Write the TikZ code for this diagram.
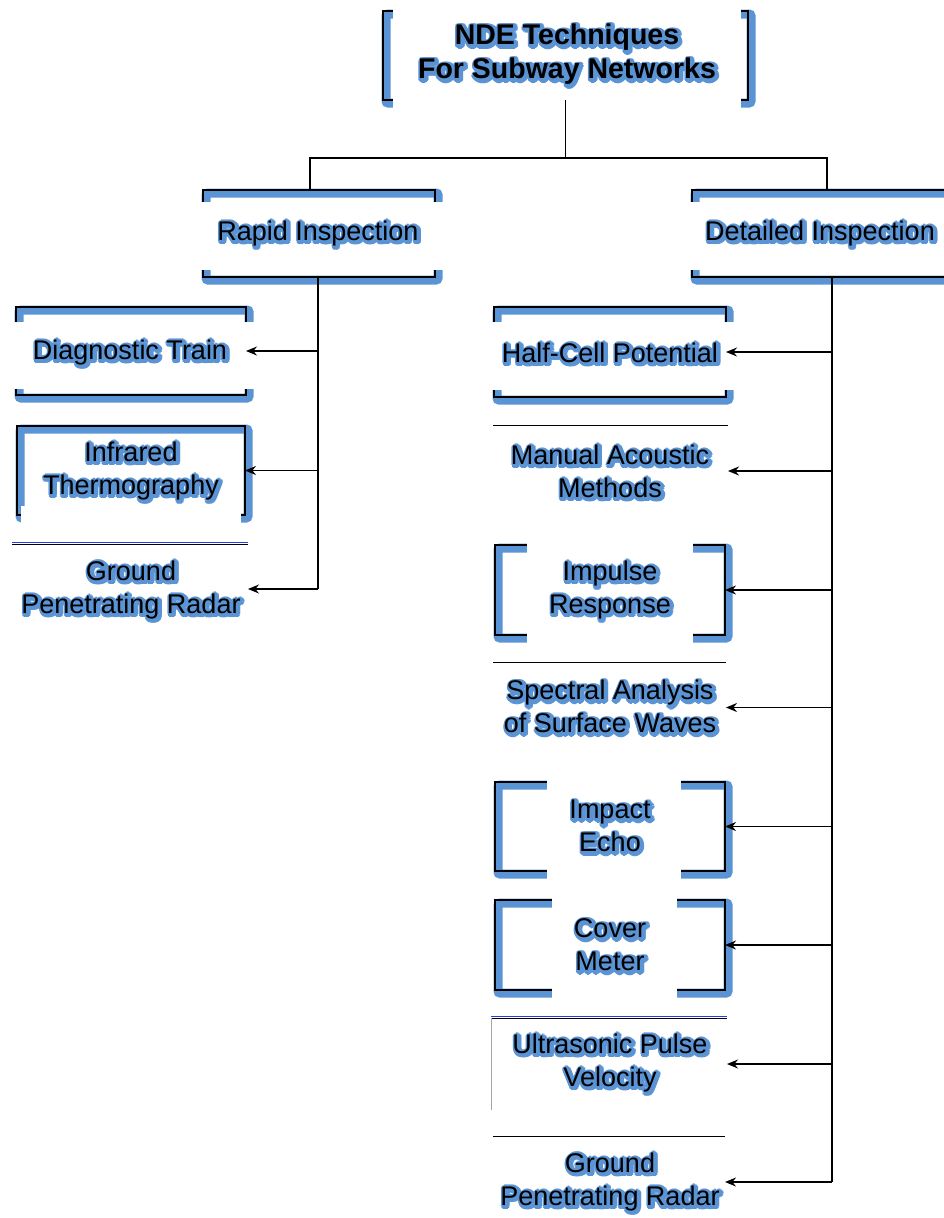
\documentclass[tikz,border=0pt]{standalone}
\usepackage{fontspec}
\setmainfont{Liberation Sans}
\usetikzlibrary{arrows.meta,fit}
\definecolor{glowblue}{RGB}{91,148,212}
\definecolor{edgeblue}{RGB}{40,60,230}
\tikzset{
  frm/.style={inner sep=0pt, outer sep=0pt},
  shad/.style={glowblue, line width=9pt, rounded corners=2pt},
  outl/.style={black, line width=1.6pt},
  topl/.style={black, line width=1pt},
  mask/.style={fill=white, draw=none},
  lbl/.style={inner sep=0pt, align=center, text=black, font=\fontsize{27}{33}\selectfont},
  ttl/.style={font=\fontsize{28.5}{34}\selectfont\bfseries},
  conn/.style={black, line width=1.3pt},
  arr/.style={conn, -{Stealth[length=11pt,width=9pt]}}
}
% one glow copy: x offset, y raise, text
\newcommand\gcp[3]{\rlap{\kern#1pt\raisebox{#2pt}{#3}}}
% a line of text with a blue halo, set in one box
\newcommand\gl[1]{\leavevmode{\color{glowblue}%
  \gcp{4.5}{-1.5}{#1}\gcp{4.1}{0}{#1}\gcp{3}{1.1}{#1}\gcp{1.5}{1.5}{#1}%
  \gcp{0}{1.1}{#1}\gcp{-1.1}{0}{#1}\gcp{-1.5}{-1.5}{#1}\gcp{-1.1}{-3}{#1}%
  \gcp{0}{-4.1}{#1}\gcp{1.5}{-4.5}{#1}\gcp{3}{-4.1}{#1}\gcp{4.1}{-3}{#1}%
  \gcp{1.5}{-1.5}{#1}\gcp{3}{-1.5}{#1}\gcp{0}{-1.5}{#1}\gcp{1.5}{0}{#1}\gcp{1.5}{-3}{#1}}#1}
\newcommand\myshbox[1]{%
  \draw[shad] ([shift={(3,3)}]#1.north west) rectangle ([shift={(3,3)}]#1.south east);
}
\newcommand\myolbox[1]{%
  \draw[outl] (#1.north west) rectangle (#1.south east);
}
\begin{document}
\begin{tikzpicture}[x=1pt,y=-1pt]
\fill[white] (0,0) rectangle (943,1218);
\useasboundingbox (0,0) rectangle (943,1218);
% frames
\node[frm, fit={(383,11) (748,100)}] (title) {};
\node[frm, fit={(203,190) (435,277)}] (rapid) {};
\node[frm, fit={(692,190) (962,277)}] (detailed) {};
\node[frm, fit={(16,307) (246,395)}] (diag) {};
\node[frm, fit={(17,426) (245,515)}] (infra) {};
\node[frm, fit={(12,544) (248,634)}] (gprl) {};
\node[frm, fit={(494,307) (726,397)}] (halfcell) {};
\node[frm, fit={(493,425) (728,517)}] (manual) {};
\node[frm, fit={(495,545) (725,635)}] (impulse) {};
\node[frm, fit={(493,662) (726,753)}] (spectral) {};
\node[frm, fit={(495,782) (725,871)}] (impact) {};
\node[frm, fit={(495,900) (725,990)}] (cover) {};
\node[frm, fit={(491,1018) (727,1110)}] (ultra) {};
\node[frm, fit={(493,1136) (725,1228)}] (gprr) {};
% shadows
\foreach \b in {title,rapid,detailed,diag,infra,halfcell,impulse,impact,cover}{\myshbox{\b}}
% outlines
\foreach \b in {title,rapid,detailed,diag,infra,halfcell,impulse,impact,cover}{\myolbox{\b}}
% top lines only
\draw[edgeblue, line width=1pt] ([yshift=2pt]gprl.north west) -- ([yshift=2pt]gprl.north east);
\draw[edgeblue, line width=1pt] ([yshift=1.5pt]ultra.north west) -- ([yshift=1.5pt]ultra.north east);
\foreach \b in {gprl,manual,spectral,ultra,gprr}{\draw[topl] (\b.north west) -- (\b.north east);}
\draw[gray!70, line width=0.8pt] (ultra.north west) -- (ultra.south west);
% masks
\fill[mask] (393,0) rectangle (741,115);
\fill[mask] (195,202) rectangle (447,270);
\fill[mask] (684,202) rectangle (965,270);
\fill[mask] (8,322) rectangle (256,389);
\fill[mask] (21,506) rectangle (241,532);
\fill[mask] (486,322) rectangle (736,390);
\fill[mask] (527,535) rectangle (693,650);
\fill[mask] (547,772) rectangle (681,885);
\fill[mask] (552,890) rectangle (677,1003);
% labels
\node[lbl,ttl] (ltitle) at (567,56) {\gl{NDE Techniques}\\\gl{For Subway Networks}};
\node[lbl] (lrapid) at (318,235) {\gl{Rapid Inspection}};
\node[lbl] (ldetailed) at (820,235) {\gl{Detailed Inspection}};
\node[lbl] (ldiag) at (130,354) {\gl{Diagnostic Train}};
\node[lbl] (linfra) at (131,472.5) {\gl{Infrared}\\\gl{Thermography}};
\node[lbl] (lgprl) at (131,591.5) {\gl{Ground}\\\gl{Penetrating Radar}};
\node[lbl] (lhalf) at (610,354) {\gl{Half-Cell Potential}};
\node[lbl] (lmanual) at (610,472.5) {\gl{Manual Acoustic}\\\gl{Methods}};
\node[lbl] (limpulse) at (610,591.5) {\gl{Impulse}\\\gl{Response}};
\node[lbl] (lspectral) at (610,708) {\gl{Spectral Analysis}\\\gl{of Surface Waves}};
\node[lbl] (limpact) at (610,827.5) {\gl{Impact}\\\gl{Echo}};
\node[lbl] (lcover) at (610,946.5) {\gl{Cover}\\\gl{Meter}};
\node[lbl] (lultra) at (610,1064.5) {\gl{Ultrasonic Pulse}\\\gl{Velocity}};
\node[lbl] (lgprr) at (610,1183.5) {\gl{Ground}\\\gl{Penetrating Radar}};
% connectors
\coordinate (j1) at ([yshift=-58pt]title.south);
\draw[conn] (title.south) -- (j1);
\draw[conn] ([xshift=-9pt]rapid.north) -- ([xshift=-9pt]rapid.north |- j1) -- (j1 -| detailed.north) -- (detailed.north);
\coordinate (lt) at ([xshift=-1pt]rapid.south);
\draw[conn] (lt) -- (lt |- gprl.east);
\foreach \n in {diag,infra,gprl}{\draw[arr] (lt |- \n.east) -- (\n.east);}
\coordinate (rt) at ([xshift=5pt]detailed.south);
\draw[conn] (rt) -- (rt |- gprr.east);
\foreach \n in {halfcell,manual,impulse,spectral,impact,cover,ultra,gprr}{\draw[arr] (rt |- \n.east) -- (\n.east);}
\end{tikzpicture}
\end{document}
